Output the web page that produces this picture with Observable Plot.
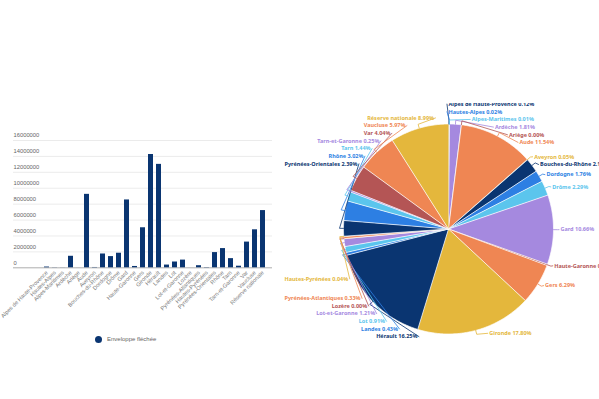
<!DOCTYPE html>
<html><head><meta charset="utf-8">
<script src="https://cdn.jsdelivr.net/npm/d3@7"></script>
<script src="https://cdn.jsdelivr.net/npm/@observablehq/plot@0.6"></script>
<style>
html,body{margin:0;padding:0;background:#fff;}
#wrap{position:relative;width:599px;height:399px;overflow:hidden;}
#bar{position:absolute;left:0;top:0;}
#pie{position:absolute;left:283px;top:103px;width:316px;height:260px;overflow:hidden;}
.legend{display:flex;align-items:center;height:18px;padding-left:94.5px;font:6px "Liberation Sans",sans-serif;color:#666}
.legend .dot{width:7px;height:7px;border-radius:50%;background:#0a3571;margin-right:5.5px}
</style></head><body>
<div id="wrap"><div id="bar"></div><div id="pie"></div></div>
<script>
const names = ["Alpes de Haute-Provence","Hautes-Alpes","Alpes-Maritimes","Ardèche","Ariège","Aude","Aveyron","Bouches-du-Rhône","Dordogne","Drôme","Gard","Haute-Garonne","Gers","Gironde","Hérault","Landes","Lot","Lot-et-Garonne","Lozère","Pyrénées-Atlantiques","Hautes-Pyrénées","Pyrénées-Orientales","Rhône","Tarn","Tarn-et-Garonne","Var","Vaucluse","Réserve nationale"];
const values = [96000,16000,8000,1448000,2000,9232000,40000,1736000,1408000,1832000,8528000,168000,5032000,14240000,13000000,344000,728000,968000,1500,264000,32000,1912000,2416000,1152000,200000,3232000,4776000,7192000];
const yTicks = [0,2000000,4000000,6000000,8000000,10000000,12000000,14000000,16000000];
const palette = ["#0a3571","#2d7fe3","#5bc5ed","#a589df","#b45555","#ef8653","#e4b73c"];
const barColor = "#0a3571";
const seriesName = "Enveloppe fléchée";

const rows = names.map((name,i)=>({name, value: values[i]}));

// ---- bar chart ----
const bar = Plot.plot({
  width: 290, height: 330,
  marginLeft: 13, marginRight: 18, marginTop: 140, marginBottom: 62.7,
  style: {fontFamily: "Liberation Sans, sans-serif", background: "transparent", overflow: "visible", color: "#666"},
  x: {domain: names, range: [42, 266], paddingInner: 0.375, paddingOuter: 0.1875, label: null},
  y: {domain: [0, 16000000], axis: null},
  marks: [
    Plot.ruleY(yTicks.slice(1), {stroke: "#e6e6e6", strokeWidth: 0.8}),
    Plot.ruleY([0], {stroke: "#999", strokeWidth: 0.8}),
    Plot.text(yTicks, {y: d=>d, text: d=>String(d), frameAnchor: "left", textAnchor: "start", dy: -5, fill: "#666", fontSize: 5.8}),
    Plot.barY(rows, {x: "name", y: "value", fill: barColor}),
    Plot.axisX({tickRotate: -45, tickSize: 0, tickPadding: 4, fill: "#777", fontSize: 5.6, label: null})
  ]
});
const barDiv = document.getElementById("bar");
barDiv.appendChild(bar);
const leg = document.createElement("div");
leg.className = "legend";
leg.innerHTML = `<span class="dot"></span><span></span>`;
leg.lastChild.textContent = seriesName;
barDiv.appendChild(leg);

// ---- pie chart ----
const W = 316, H = 260, cx = 165, cy = 125.5, r = 105, yR = 108, xR = 112, s = 7.65;
const FONT_SIZE = 5.5, FONT_FAMILY = "Noto Sans";
const ctx = document.createElement("canvas").getContext("2d");
ctx.font = `bold ${FONT_SIZE}px "${FONT_FAMILY}"`;
const total = d3.sum(values);
const pt = (a, rad) => [cx + rad*Math.sin(a), cy - rad*Math.cos(a)];

let cum = 0;
const slices = rows.map((d,i)=>{
  const a0 = cum/total*2*Math.PI; cum += d.value; const a1 = cum/total*2*Math.PI;
  const mid = (a0+a1)/2;
  const text = `${d.name} ${(d.value/total*100).toFixed(2)}%`;
  return {...d, i, a0, a1, mid, color: palette[i % palette.length], text, w: ctx.measureText(text).width,
          side: mid < Math.PI ? 1 : -1, t: cy - yR*Math.cos(mid), lo: -Infinity, hi: Infinity};
});

// fit constraint for left labels (container left edge)
for (const sl of slices) {
  if (sl.side < 0) {
    const A = cx - 1 - sl.w;
    if (A < xR) {
      const dmin = A <= 0 ? xR : Math.sqrt(xR*xR - A*A);
      if (sl.t < cy) sl.hi = cy - dmin; else sl.lo = cy + dmin;
      sl.t = Math.max(sl.lo, Math.min(sl.hi, sl.t));
    }
  }
}
function place(c){
  const m = d3.mean(c.items, (it,k)=>it.t - k*s);
  const lo = d3.max(c.items, (it,k)=>it.lo - k*s);
  const hi = d3.min(c.items, (it,k)=>it.hi - k*s);
  c.start = Math.max(lo, Math.min(hi, m));
}
function stack(items){
  const clusters = [];
  for (const it of items) {
    clusters.push({items: [it]}); place(clusters[clusters.length-1]);
    while (clusters.length > 1) {
      const a = clusters[clusters.length-2], b = clusters[clusters.length-1];
      if (a.start + a.items.length*s > b.start) { a.items.push(...b.items); clusters.pop(); place(a); }
      else break;
    }
  }
  for (const c of clusters) c.items.forEach((it,k)=>it.y = c.start + k*s);
}
const right = slices.filter(d=>d.side>0).sort((a,b)=>a.mid-b.mid);
const left = slices.filter(d=>d.side<0).sort((a,b)=>b.mid-a.mid);
stack(right); stack(left);
for (const sl of slices) {
  const dy = sl.y - cy;
  sl.x = cx + sl.side*Math.sqrt(Math.max(0, xR*xR - dy*dy));
}

// slice polygons
const slicePts = [];
for (const sl of slices) {
  slicePts.push({name: sl.name, color: sl.color, x: cx, y: cy});
  const n = Math.max(2, Math.ceil((sl.a1-sl.a0)/0.01));
  for (let k=0;k<=n;k++){ const [x,y] = pt(sl.a0 + (sl.a1-sl.a0)*k/n, r); slicePts.push({name: sl.name, color: sl.color, x, y}); }
}
// connectors
const connPts = [];
for (const sl of slices) {
  const [x0,y0] = pt(sl.mid, r), [x1,y1] = pt(sl.mid, r+4);
  connPts.push({name: sl.name, color: sl.color, x: x0, y: y0},
               {name: sl.name, color: sl.color, x: x1, y: y1},
               {name: sl.name, color: sl.color, x: sl.x - sl.side*1.5, y: sl.y});
}

const pie = Plot.plot({
  width: W, height: H, margin: 0,
  style: {background: "transparent"},
  x: {domain: [0, W], range: [0, W], axis: null},
  y: {domain: [0, H], range: [0, H], axis: null},
  marks: [
    Plot.line(slicePts, {x: "x", y: "y", z: "name", fill: "color", stroke: "white", strokeWidth: 0.7, strokeLinejoin: "round"}),
    Plot.line(connPts, {x: "x", y: "y", z: "name", stroke: "color", strokeWidth: 0.8}),
    Plot.text(right, {x: "x", y: "y", text: "text", fill: "color", textAnchor: "start", fontSize: FONT_SIZE, fontWeight: "bold", fontFamily: FONT_FAMILY}),
    Plot.text(left, {x: "x", y: "y", text: "text", fill: "color", textAnchor: "end", fontSize: FONT_SIZE, fontWeight: "bold", fontFamily: FONT_FAMILY})
  ]
});
document.getElementById("pie").appendChild(pie);
</script></body></html>
